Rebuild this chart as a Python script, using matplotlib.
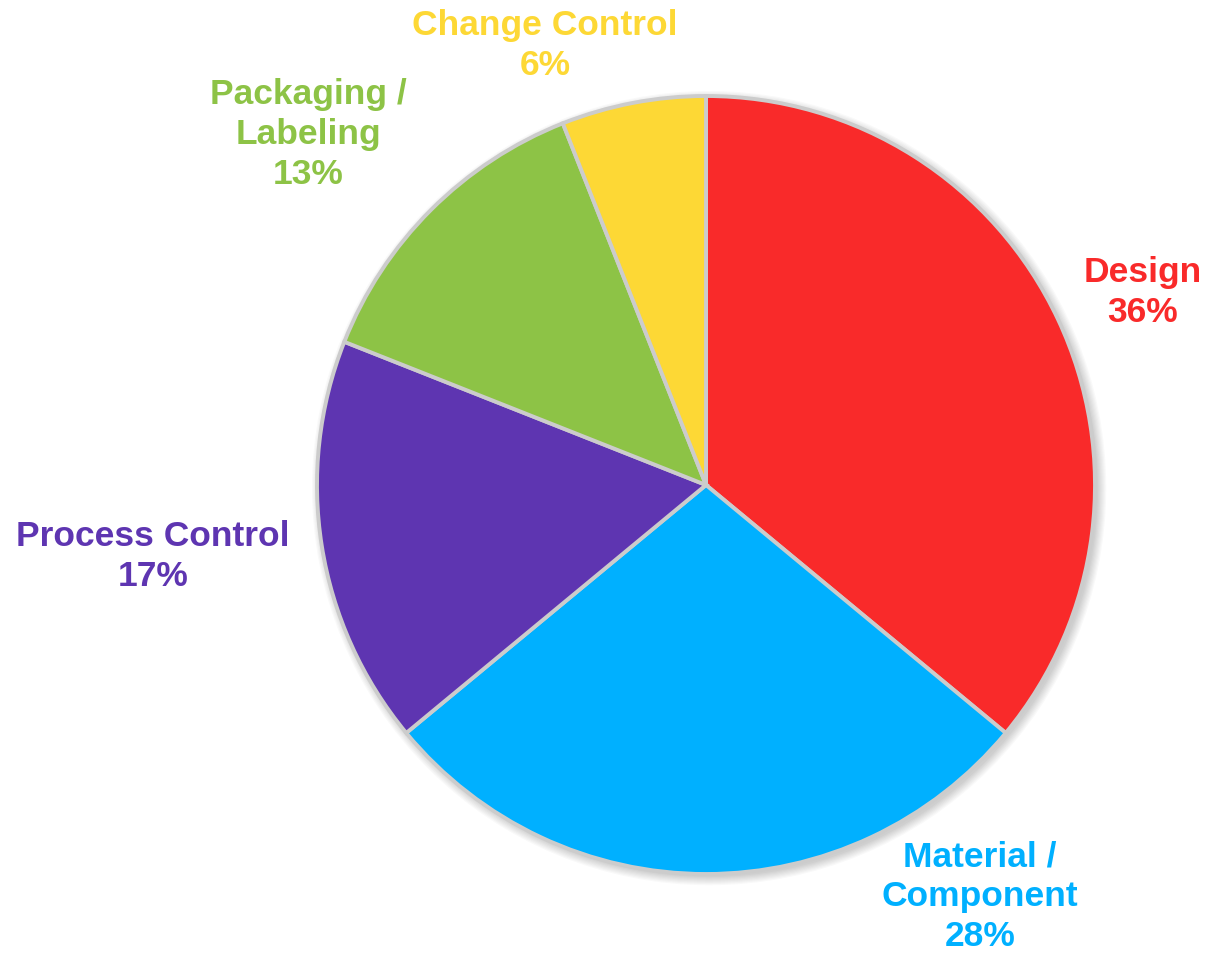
import matplotlib.pyplot as plt
from matplotlib.patches import Circle

categories = ["Design", "Material /\nComponent", "Process Control", "Packaging /\nLabeling", "Change Control"]
shares = [36, 28, 17, 13, 6]
colors = ["#F92A2A", "#00B0FF", "#5E35B1", "#8DC346", "#FDD835"]

# label anchor points, in units of the pie radius
label_pos = [(1.123, 0.496), (0.704, -1.059), (-1.422, -0.183), (-1.023, 0.900), (-0.414, 1.131)]

W, H = 1209, 956
cx, cy, R = 706, 485, 389

fig = plt.figure(figsize=(W / 100, H / 100), dpi=100)
ax = fig.add_axes([0, 0, 1, 1])
ax.axis("off")

# soft drop shadow behind the pie
for i in range(8):
    ax.add_patch(Circle((0.008, -0.008), 1.0 + 0.003 * i, color="black",
                        alpha=0.022, lw=0, zorder=0))

ax.pie(shares, colors=colors, startangle=90, counterclock=False, radius=1.0,
       wedgeprops=dict(edgecolor="#CCCCCC", linewidth=2.8))
ax.set_xlim(-cx / R, (W - cx) / R)
ax.set_ylim(-(H - cy) / R, cy / R)

for name, val, col, (x, y) in zip(categories, shares, colors, label_pos):
    ax.text(x, y, f"{name}\n{val}%", color=col, fontsize=25.5, fontweight="bold",
            family="Liberation Sans", ha="center", va="center", linespacing=1.27)

fig.savefig("out.png", dpi=100)
